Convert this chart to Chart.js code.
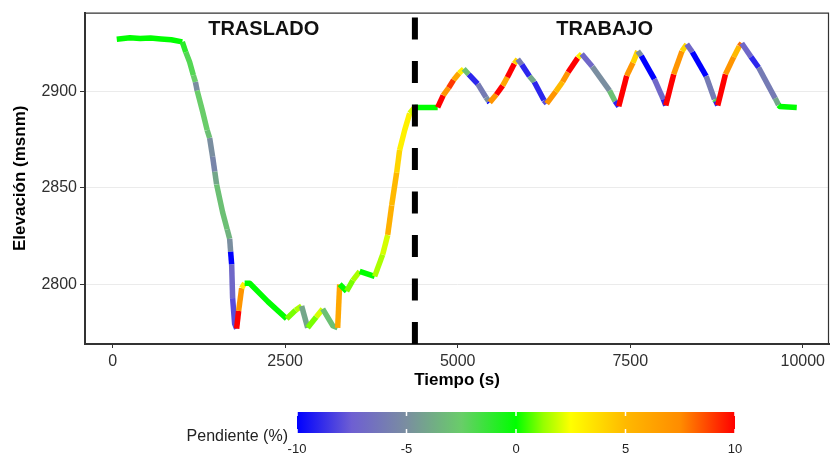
<!DOCTYPE html>
<html>
<head>
<meta charset="utf-8">
<script src="https://cdn.jsdelivr.net/npm/chart.js@4.4.0/dist/chart.umd.min.js"></script>
<style>
  html, body { margin: 0; padding: 0; background: #fff; }
</style>
</head>
<body>
<canvas id="chart" width="830" height="459"></canvas>
<script>
// perfil de elevacion, tiempo en s, elevacion en msnm, pendiente en %
const tiempo = [
  60, 250, 400, 550, 700, 850, 1010, 1060, 1116, 1170, 1200, 1225, 1304, 1370, 1406, 1449, 1480, 1507,
  1594, 1660, 1696, 1710, 1725, 1739, 1768, 1797, 1826, 1870, 1913, 1986, 2250, 2522, 2650, 2739, 2826,
  2950, 3044, 3189, 3261, 3290, 3391, 3480, 3580, 3797, 3913, 3986, 4044, 4116, 4159, 4232, 4304, 4377,
  4710, 4790, 4870, 4940, 5020, 5087, 5160, 5290, 5410, 5450,
  5464, 5560, 5652, 5720, 5820, 5870, 5930, 6040, 6110, 6250,
  6290, 6420, 6520, 6600, 6740, 6797, 6950, 7200, 7280, 7334,
  7449, 7540, 7609, 7660, 7850, 7980, 8015, 8130, 8250, 8319,
  8400, 8600, 8720, 8740, 8768, 8880, 9000, 9080, 9116, 9250,
  9360, 9600, 9650, 9667, 9913
];
const elevacion = [
  2927.2, 2928.0, 2927.6, 2927.8, 2927.3, 2926.9, 2925.8, 2920.5, 2915.4, 2908.5, 2905.0, 2900.5, 2889.7,
  2880.0, 2875.9, 2866.2, 2858.5, 2851.8, 2837.4, 2828.5, 2823.6, 2816.9, 2810.3, 2792.8, 2779.5, 2777.0,
  2786.2, 2798.0, 2800.5, 2800.5, 2791.0, 2782.1, 2786.5, 2788.7, 2777.4, 2783.0, 2787.2, 2778.5, 2777.4,
  2800.0, 2796.4, 2802.0, 2806.7, 2804.1, 2815.4, 2825.6, 2841.0, 2858.0, 2869.7, 2880.0, 2888.7, 2891.8,
  2891.8, 2898.0, 2902.0, 2906.0, 2909.5, 2911.8, 2909.0, 2904.0, 2897.0, 2895.0,
  2894.4, 2898.5, 2903.1, 2907.5, 2914.5, 2916.9, 2914.0, 2908.0, 2905.0, 2895.5,
  2893.8, 2900.0, 2905.0, 2910.0, 2917.5, 2919.5, 2913.0, 2900.5, 2895.0, 2892.3,
  2908.2, 2915.0, 2921.0, 2918.5, 2906.5, 2896.0, 2892.8, 2909.0, 2921.0, 2924.6,
  2920.5, 2908.0, 2896.0, 2895.0, 2892.8, 2909.0, 2918.0, 2923.5, 2925.1, 2918.0,
  2912.5, 2896.5, 2893.0, 2892.3, 2891.8
];
const pendiente = [
  0, 0, 0, 0, 0, 0, -1, -2, -2, -2.5, -5, -2.5, -2.5, -3, -5, -5.5, -4, -3,
  -3, -3.5, -5, -10, -7, -8, -8, 10, 7, 3, 0, 0, 0, 1, 1.5, -4, 1,
  2, -3, -3, 6, 0, 1, 1.5, 0, 1.5, 2, 5.5, 5, 4, 3, 3, 2, 0,
  10, 7, 9, 6, 3, -3, -9, -6, -5, -10,
  7, 10, 6, 10, 4, -6, -9, -4, -9, -8,
  7, 5, 7, 10, 3, -7, -5, -3, -9, 10,
  7, 4, -5, -10, -7, -9, 10, 7, 4, -7,
  -10, -6, -2, -9, 10, 7, 5, 8, -7, -9,
  -6, -4, 0, 0, 0
];
const xTicks = [0, 2500, 5000, 7500, 10000];
const yTicks = [2800, 2850, 2900];
const legendTicks = [-10, -5, 0, 5, 10];
const corte = 4380;
const fases = ['TRASLADO', 'TRABAJO'];
const faseX = [2190, 7130];
const faseY = 2932.3;

const paleta = [
  [-10, [0, 0, 255]],
  [-7.5, [110, 95, 210]],
  [-5, [122, 142, 160]],
  [-2.5, [105, 205, 105]],
  [0, [0, 255, 0]],
  [1.25, [150, 255, 0]],
  [2.5, [255, 255, 0]],
  [5, [255, 185, 0]],
  [7.5, [255, 140, 0]],
  [10, [255, 0, 0]]
];

const colorPendiente = (v) => {
  v = Math.max(-10, Math.min(10, v));
  for (let i = 1; i < paleta.length; i++) {
    const [v0, c0] = paleta[i - 1];
    const [v1, c1] = paleta[i];
    if (v <= v1) {
      const f = (v - v0) / (v1 - v0);
      const c = c0.map((k, j) => Math.round(k + (c1[j] - k) * f));
      return `rgb(${c[0]}, ${c[1]}, ${c[2]})`;
    }
  }
  return 'rgb(255, 0, 0)';
};

const FONT = '"Liberation Sans", Arial, sans-serif';

const extras = {
  id: 'extras',
  afterDatasetsDraw(chart) {
    const {ctx, chartArea: a, scales: {x, y}} = chart;
    ctx.save();
    ctx.beginPath();
    ctx.rect(a.left, a.top, a.right - a.left, a.bottom - a.top);
    ctx.clip();
    const px = x.getPixelForValue(corte);
    ctx.setLineDash([22, 21.5]);
    ctx.lineWidth = 6;
    ctx.strokeStyle = '#000';
    ctx.beginPath();
    ctx.moveTo(px, a.bottom);
    ctx.lineTo(px, a.top);
    ctx.stroke();
    ctx.restore();

    ctx.save();
    ctx.font = 'bold 20px ' + FONT;
    ctx.fillStyle = '#111';
    ctx.textAlign = 'center';
    ctx.textBaseline = 'middle';
    fases.forEach((f, i) => ctx.fillText(f, x.getPixelForValue(faseX[i]), y.getPixelForValue(faseY)));
    ctx.restore();
  },
  afterDraw(chart) {
    const {ctx, chartArea: a} = chart;
    ctx.save();
    ctx.strokeStyle = '#333';
    ctx.lineWidth = 1.2;
    ctx.beginPath();
    ctx.moveTo(a.left, a.top + 0.5);
    ctx.lineTo(a.right - 0.5, a.top + 0.5);
    ctx.lineTo(a.right - 0.5, a.bottom);
    ctx.stroke();

    // barra de color
    const x0 = 297, x1 = 735, y0 = 412, y1 = 433;
    const g = ctx.createLinearGradient(x0, 0, x1, 0);
    paleta.forEach(([v]) => g.addColorStop((v + 10) / 20, colorPendiente(v)));
    ctx.fillStyle = g;
    ctx.fillRect(x0, y0, x1 - x0, y1 - y0);
    ctx.strokeStyle = '#fff';
    ctx.lineWidth = 1.5;
    ctx.font = '13px ' + FONT;
    ctx.fillStyle = '#222';
    ctx.textAlign = 'center';
    ctx.textBaseline = 'middle';
    legendTicks.forEach((v) => {
      const px = x0 + (v + 10) / 20 * (x1 - x0);
      ctx.beginPath();
      ctx.moveTo(px, y0); ctx.lineTo(px, y0 + 4);
      ctx.moveTo(px, y1 - 4); ctx.lineTo(px, y1);
      ctx.stroke();
      ctx.fillText(String(v), px, 449);
    });
    ctx.font = '16px ' + FONT;
    ctx.textAlign = 'right';
    ctx.fillText('Pendiente (%)', 288, 437);
    ctx.restore();
  }
};

new Chart(document.getElementById('chart'), {
  type: 'line',
  data: {
    datasets: [{
      data: tiempo.map((t, i) => ({x: t, y: elevacion[i]})),
      borderWidth: 5.5,
      pointRadius: 0,
      tension: 0,
      borderJoinStyle: 'round',
      segment: {
        borderColor: (c) => colorPendiente(pendiente[c.p0DataIndex])
      }
    }]
  },
  options: {
    responsive: false,
    animation: false,
    layout: {padding: {left: 0, right: 1, top: 8, bottom: 65}},
    plugins: {legend: {display: false}, tooltip: {enabled: false}},
    scales: {
      x: {
        type: 'linear',
        min: -400,
        max: 10380,
        afterBuildTicks: (s) => { s.ticks = xTicks.map((v) => ({value: v})); },
        afterFit: (s) => { s.height = 50; },
        ticks: {font: {family: FONT, size: 16}, color: '#303030', padding: 4, callback: (v) => String(v), maxRotation: 0},
        grid: {drawOnChartArea: false, tickLength: 4, tickColor: '#333'},
        border: {color: '#333', width: 2},
        title: {display: true, text: 'Tiempo (s)', color: '#000', font: {family: FONT, size: 17, weight: 'bold'}, padding: {top: 0, bottom: 3}}
      },
      y: {
        min: 2769,
        max: 2941,
        afterBuildTicks: (s) => { s.ticks = yTicks.map((v) => ({value: v})); },
        afterFit: (s) => { s.width = 85; },
        ticks: {font: {family: FONT, size: 16}, color: '#303030', padding: 3, callback: (v) => String(v)},
        grid: {color: '#EBEBEB', tickLength: 5, tickColor: '#333'},
        border: {color: '#333', width: 2},
        title: {display: true, text: 'Elevación (msnm)', color: '#000', font: {family: FONT, size: 17, weight: 'bold'}, padding: {top: 10, bottom: 0}}
      }
    }
  },
  plugins: [extras]
});
</script>
</body>
</html>
